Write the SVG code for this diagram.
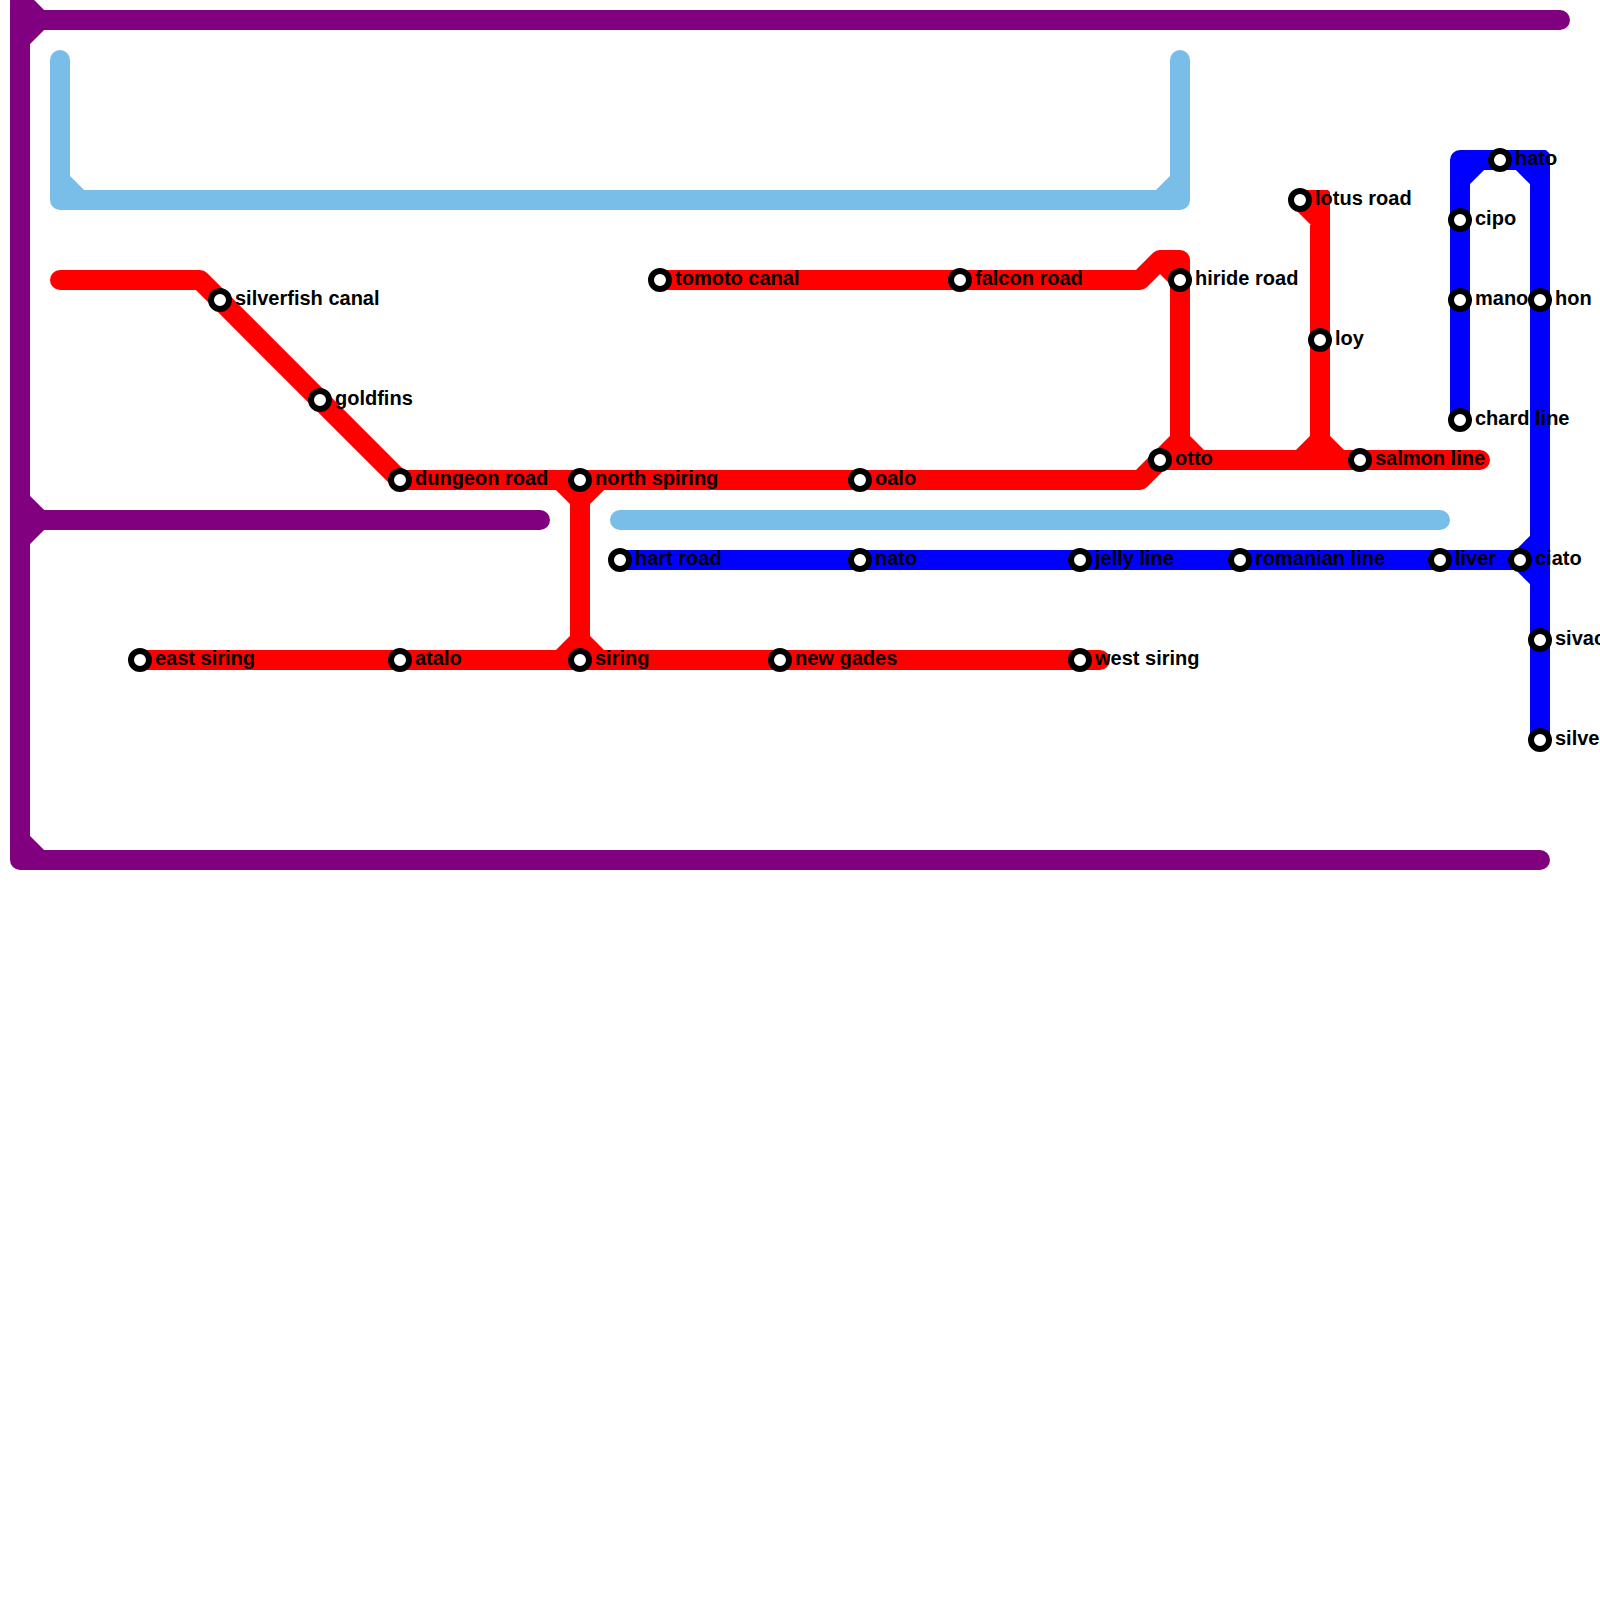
<svg xmlns="http://www.w3.org/2000/svg" width="1600" height="1600" viewBox="0 0 1600 1600">
<style>
.l{fill:none;stroke-width:20;stroke-linecap:round;stroke-linejoin:round}
.p{stroke:#800080}.b{stroke:#79bde9}.r{stroke:#f00}.u{stroke:#00f}
.s{fill:#fff;stroke:#000;stroke-width:6}
text{font-family:"Liberation Sans",Arial,sans-serif;font-weight:700;font-size:20px;fill:#000}
</style>
<rect width="1600" height="1600" fill="#fff"/>
<g id="connectors">
<path class="l p" d="M20 -20V860H1540M1560 20H40L20 0M40 20L20 40M540 520H40L20 500M40 520L20 540M20 840L40 860"/>
<path class="l b" d="M60 60V200H1180V60M60 180L80 200M1160 200L1180 180M620 520H1440"/>
<path class="l r" d="M60 280H200L400 480H1140L1160 460H1480M660 280H1140L1160 260H1180V460M1160 260L1180 280M1180 440L1160 460M1180 440L1200 460M1300 200H1320V460M1300 200L1320 220M1320 440L1300 460M1320 440L1340 460M580 480V660M560 480L580 500L600 480M560 660L580 640L600 660M140 660H1100"/>
<path d="M1320 190H1328L1330 192V200H1320Z" fill="#f00"/>
<path class="l u" d="M620 560H1520M1540 160V740M1460 420V160H1540M1460 180L1480 160M1520 160L1540 180M1520 560L1540 540M1520 560L1540 580"/>
<path d="M1540 150H1546L1550 154V160H1540Z" fill="#00f"/>
</g>
<g id="silverfish-canal"><circle class="s" cx="220" cy="300" r="9"/><text x="235" y="305">silverfish canal</text></g>
<g id="goldfins"><circle class="s" cx="320" cy="400" r="9"/><text x="335" y="405">goldfins</text></g>
<g id="dungeon-road"><circle class="s" cx="400" cy="480" r="9"/><text x="415" y="485">dungeon road</text></g>
<g id="north-spiring"><circle class="s" cx="580" cy="480" r="9"/><text x="595" y="485">north spiring</text></g>
<g id="oalo"><circle class="s" cx="860" cy="480" r="9"/><text x="875" y="485">oalo</text></g>
<g id="tomoto-canal"><circle class="s" cx="660" cy="280" r="9"/><text x="675" y="285">tomoto canal</text></g>
<g id="falcon-road"><circle class="s" cx="960" cy="280" r="9"/><text x="975" y="285">falcon road</text></g>
<g id="hiride-road"><circle class="s" cx="1180" cy="280" r="9"/><text x="1195" y="285">hiride road</text></g>
<g id="lotus-road"><circle class="s" cx="1300" cy="200" r="9"/><text x="1315" y="205">lotus road</text></g>
<g id="loy"><circle class="s" cx="1320" cy="340" r="9"/><text x="1335" y="345">loy</text></g>
<g id="otto"><circle class="s" cx="1160" cy="460" r="9"/><text x="1175" y="465">otto</text></g>
<g id="salmon-line"><circle class="s" cx="1360" cy="460" r="9"/><text x="1375" y="465">salmon line</text></g>
<g id="east-siring"><circle class="s" cx="140" cy="660" r="9"/><text x="155" y="665">east siring</text></g>
<g id="atalo"><circle class="s" cx="400" cy="660" r="9"/><text x="415" y="665">atalo</text></g>
<g id="siring"><circle class="s" cx="580" cy="660" r="9"/><text x="595" y="665">siring</text></g>
<g id="new-gades"><circle class="s" cx="780" cy="660" r="9"/><text x="795" y="665">new gades</text></g>
<g id="west-siring"><circle class="s" cx="1080" cy="660" r="9"/><text x="1095" y="665">west siring</text></g>
<g id="hart-road"><circle class="s" cx="620" cy="560" r="9"/><text x="635" y="565">hart road</text></g>
<g id="nato"><circle class="s" cx="860" cy="560" r="9"/><text x="875" y="565">nato</text></g>
<g id="jelly-line"><circle class="s" cx="1080" cy="560" r="9"/><text x="1095" y="565">jelly line</text></g>
<g id="romanian-line"><circle class="s" cx="1240" cy="560" r="9"/><text x="1255" y="565">romanian line</text></g>
<g id="liver"><circle class="s" cx="1440" cy="560" r="9"/><text x="1455" y="565">liver</text></g>
<g id="ciato"><circle class="s" cx="1520" cy="560" r="9"/><text x="1535" y="565">ciato</text></g>
<g id="sivac"><circle class="s" cx="1540" cy="640" r="9"/><text x="1555" y="645">sivac</text></g>
<g id="silve"><circle class="s" cx="1540" cy="740" r="9"/><text x="1555" y="745">silve</text></g>
<g id="hato"><circle class="s" cx="1500" cy="160" r="9"/><text x="1515" y="165">hato</text></g>
<g id="cipo"><circle class="s" cx="1460" cy="220" r="9"/><text x="1475" y="225">cipo</text></g>
<g id="mano"><circle class="s" cx="1460" cy="300" r="9"/><text x="1475" y="305">mano</text></g>
<g id="hon"><circle class="s" cx="1540" cy="300" r="9"/><text x="1555" y="305">hon</text></g>
<g id="chard-line"><circle class="s" cx="1460" cy="420" r="9"/><text x="1475" y="425">chard line</text></g>
</svg>
